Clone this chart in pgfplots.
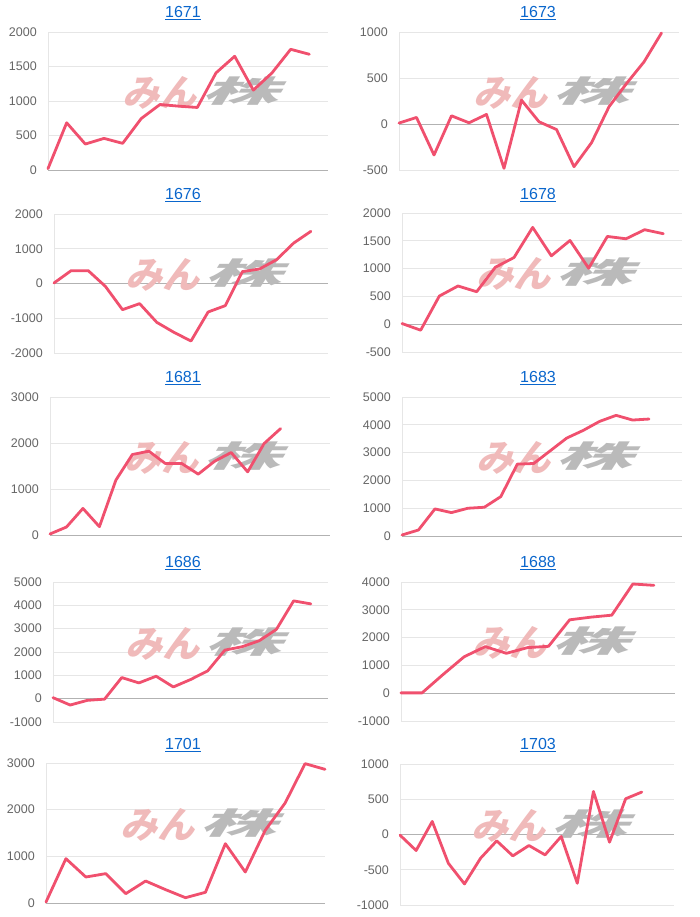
\documentclass[border=0pt]{standalone}
\usepackage{graphicx}
\usepackage{fontspec}
\usepackage{pgfplots}
\pgfplotsset{compat=1.18}
\setmainfont{Liberation Sans}
\newfontfamily\wm[FakeSlant=0.25,BoldFeatures={FakeSlant=0.25}]{Noto Sans CJK JP}
\definecolor{linec}{RGB}{240,80,110}
\definecolor{gridc}{RGB}{230,230,230}
\definecolor{zeroc}{RGB}{178,178,178}
\definecolor{tickc}{RGB}{102,102,102}
\definecolor{titlec}{RGB}{10,102,204}
\definecolor{wmpink}{RGB}{240,186,186}
\definecolor{wmgrey}{RGB}{186,186,186}
\pgfplotsset{
  panel/.style={
    scale only axis, anchor=south west,
    xmin=0, clip=false,
    hide x axis,
    axis y line*=left,
    y axis line style={draw=gridc, line width=0.8pt, -},
    ymajorgrids, grid style={draw=gridc, line width=0.8pt},
    major tick length=0pt,
    extra y ticks={0}, extra y tick labels={},
    extra y tick style={grid style={draw=zeroc, line width=0.8pt}},
    yticklabel style={font=\fontsize{12.5}{14}\selectfont, text=tickc, inner sep=0pt, xshift=-11pt},
    /pgf/number format/assume math mode=true,
    /pgf/number format/.cd, set thousands separator={}, fixed, precision=0, /pgfplots/.cd,
  },
  line/.style={draw=linec, line width=2.8pt, line join=round, line cap=round, mark=none},
}
\newcommand{\wmark}{\node[inner sep=0pt] at (rel axis cs:0.545,0.56) {\wm\bfseries\fontsize{37}{38}\selectfont\color{wmpink}\raisebox{-3pt}{みん}\hspace{5pt}\color{wmgrey}\fontsize{30}{32}\selectfont\raisebox{1pt}{\scalebox{2.55}[1]{株}}};}
\newcommand{\ttl}[3]{\node[font=\fontsize{16}{18}\selectfont, text=titlec] at (#1pt,#2pt) {\underline{#3}};}
\begin{document}
\begin{tikzpicture}[x=1pt,y=1pt]
\useasboundingbox (0,0) rectangle (700,917);
% Row 1
\ttl{183}{904}{1671}
\begin{axis}[panel, at={(48pt,747pt)}, width=280pt, height=138pt, xmax=15, ymin=0, ymax=2000, ytick={0,500,1000,1500,2000}]
\wmark
\addplot[line] coordinates {(0,20)(1,684)(2,376)(3,458)(4,386)(5,747)(6,949)(7,925)(8,906)(9,1407)(10,1648)(11,1157)(12,1407)(13,1749)(14,1677)};
\end{axis}
\ttl{538}{904}{1673}
\begin{axis}[panel, at={(399pt,747pt)}, width=280pt, height=138pt, xmax=16, ymin=-500, ymax=1000, ytick={-500,0,500,1000}]
\wmark
\addplot[line] coordinates {(0,10)(1,71)(2,-337)(3,89)(4,13)(5,104)(6,-482)(7,259)(8,24)(9,-60)(10,-464)(11,-204)(12,187)(13,440)(14,675)(15,989)};
\end{axis}
% Row 2
\ttl{183}{722}{1676}
\begin{axis}[panel, at={(54pt,564pt)}, width=274pt, height=139pt, xmax=16, ymin=-2000, ymax=2000, ytick={-2000,-1000,0,1000,2000}]
\wmark
\addplot[line] coordinates {(0,14)(1,369)(2,369)(3,-82)(4,-753)(5,-580)(6,-1117)(7,-1405)(8,-1655)(9,-820)(10,-638)(11,341)(12,417)(13,686)(14,1165)(15,1501)};
\end{axis}
\ttl{538}{722}{1678}
\begin{axis}[panel, at={(402pt,565pt)}, width=280pt, height=139pt, xmax=15, ymin=-500, ymax=2000, ytick={-500,0,500,1000,1500,2000}]
\wmark
\addplot[line] coordinates {(0,12)(1,-108)(2,506)(3,687)(4,584)(5,1024)(6,1199)(7,1741)(8,1229)(9,1506)(10,1006)(11,1578)(12,1536)(13,1699)(14,1627)};
\end{axis}
% Row 3
\ttl{183}{539}{1681}
\begin{axis}[panel, at={(50pt,382pt)}, width=280pt, height=138pt, xmax=17, ymin=0, ymax=3000, ytick={0,1000,2000,3000}]
\wmark
\addplot[line] coordinates {(0,22)(1,173)(2,578)(3,181)(4,1193)(5,1749)(6,1822)(7,1554)(8,1554)(9,1323)(10,1605)(11,1793)(12,1373)(13,1988)(14,2313)};
\end{axis}
\ttl{538}{539}{1683}
\begin{axis}[panel, at={(402pt,381pt)}, width=280pt, height=139pt, xmax=17, ymin=0, ymax=5000, ytick={0,1000,2000,3000,4000,5000}]
\wmark
\addplot[line] coordinates {(0,36)(1,216)(2,974)(3,841)(4,998)(5,1034)(6,1418)(7,2584)(8,2608)(9,3065)(10,3522)(11,3798)(12,4123)(13,4339)(14,4171)(15,4207)};
\end{axis}
% Row 4
\ttl{183}{354}{1686}
\begin{axis}[panel, at={(53pt,195pt)}, width=275pt, height=140pt, xmax=16, ymin=-1000, ymax=5000, ytick={-1000,0,1000,2000,3000,4000,5000}]
\wmark
\addplot[line] coordinates {(0,43)(1,-273)(2,-72)(3,-20)(4,904)(5,675)(6,962)(7,502)(8,818)(9,1191)(10,2081)(11,2225)(12,2483)(13,2971)(14,4191)(15,4062)};
\end{axis}
\ttl{538}{354}{1688}
\begin{axis}[panel, at={(401pt,196pt)}, width=274pt, height=139pt, xmax=13, ymin=-1000, ymax=4000, ytick={-1000,0,1000,2000,3000,4000}]
\wmark
\addplot[line] coordinates {(0,12)(1,12)(2,675)(3,1313)(4,1675)(5,1434)(6,1639)(7,1687)(8,2639)(9,2735)(10,2807)(11,3928)(12,3880)};
\end{axis}
% Row 5
\ttl{183}{172}{1701}
\begin{axis}[panel, at={(46pt,14pt)}, width=279pt, height=140pt, xmax=14, ymin=0, ymax=3000, ytick={0,1000,2000,3000}]
\wmark
\addplot[line] coordinates {(0,21)(1,950)(2,557)(3,629)(4,200)(5,471)(6,286)(7,114)(8,229)(9,1271)(10,664)(11,1557)(12,2143)(13,2986)(14,2864)};
\end{axis}
\ttl{538}{172}{1703}
\begin{axis}[panel, at={(400pt,12pt)}, width=274pt, height=141pt, xmax=17, ymin=-1000, ymax=1000, ytick={-1000,-500,0,500,1000}]
\wmark
\addplot[line] coordinates {(0,-9)(1,-227)(2,185)(3,-408)(4,-701)(5,-336)(6,-90)(7,-303)(8,-156)(9,-289)(10,-28)(11,-692)(12,611)(13,-109)(14,507)(15,602)};
\end{axis}
\end{tikzpicture}
\end{document}
